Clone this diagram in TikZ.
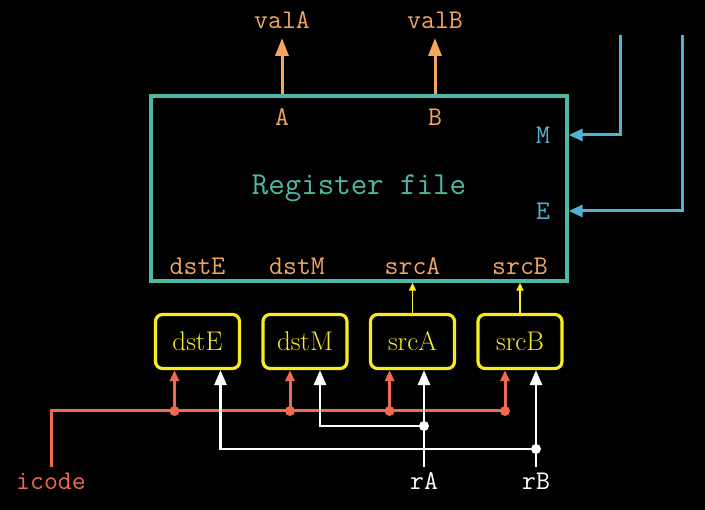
\documentclass[tikz,border=0pt]{standalone}
\usetikzlibrary{arrows.meta}
\definecolor{orng}{HTML}{F2A65E}
\definecolor{teal2}{HTML}{4DB8A6}
\definecolor{blu}{HTML}{4DB4D6}
\definecolor{rd}{HTML}{EE6A50}
\definecolor{yel}{HTML}{F8EC20}
\tikzset{
  lbl/.style={inner sep=0pt, font=\fontsize{27}{30}\selectfont\ttfamily},
  regbox/.style={draw=yel, line width=3.2pt, rounded corners=7pt, minimum width=84pt, minimum height=54pt, inner sep=0pt, text=yel, font=\fontsize{27}{30}\selectfont},
  oarr/.style={draw=orng, line width=3pt, -{Triangle[length=18pt,width=13pt]}},
  barr/.style={draw=blu, line width=3pt, -{Triangle[length=14pt,width=12pt]}},
  rarr/.style={draw=rd, line width=3pt, -{Triangle[length=11pt,width=9pt]}},
  rline/.style={draw=rd, line width=3pt},
  warr/.style={draw=white, line width=2.8pt, -{Triangle[length=15pt,width=12pt]}},
  yarr/.style={draw=yel, line width=1.8pt, -{Triangle[length=8pt,width=7pt]}},
  rdot/.style={circle, fill=rd, inner sep=0pt, minimum size=10pt},
  wdot/.style={circle, fill=white, inner sep=0pt, minimum size=10pt},
}
\begin{document}
\begin{tikzpicture}[x=1pt,y=-1pt]
\fill[black] (0,0) rectangle (705,510);
\useasboundingbox (0,0) rectangle (705,510);
% register file
\node[draw=teal2, line width=3.4pt, minimum width=416pt, minimum height=185pt, inner sep=0pt] (rf) at (359,188.5) {};
\node[lbl, text=teal2, font=\fontsize{32}{36}\selectfont\ttfamily] (rftxt) at (359,188) {Register file};
\node[lbl, text=orng] (pA) at (282,117) {A};
\node[lbl, text=orng] (pB) at (435,117) {B};
\node[lbl, text=blu] (pM) at (543,135) {M};
\node[lbl, text=blu] (pE) at (543,211) {E};
\node[lbl, text=orng] (pdstE) at (197.5,266) {dstE};
\node[lbl, text=orng] (pdstM) at (297,266) {dstM};
\node[lbl, text=orng] (psrcA) at (412.5,266) {srcA};
\node[lbl, text=orng] (psrcB) at (520,266) {srcB};
% outputs
\node[lbl, text=orng] (valA) at (282,20) {valA};
\node[lbl, text=orng] (valB) at (435,20) {valB};
\coordinate (vaT) at (282,38);
\coordinate (vbT) at (435,38);
\draw[oarr] (rf.north -| vaT) -- (vaT);
\draw[oarr] (rf.north -| vbT) -- (vbT);
% blue inputs
\coordinate (mIn) at (620,35);
\coordinate (eIn) at (682,35);
\draw[barr] (mIn) -- (mIn |- pM) -- (rf.east |- pM);
\draw[barr] (eIn) -- (eIn |- pE) -- (rf.east |- pE);
% boxes
\node[regbox] (bdstE) at (197.5,341.5) {dstE};
\node[regbox] (bdstM) at (305,341.5) {dstM};
\node[regbox] (bsrcA) at (412.5,341.5) {srcA};
\node[regbox] (bsrcB) at (520,341.5) {srcB};
\draw[yarr] (bsrcA.north) -- (bsrcA.north |- rf.south);
\draw[yarr] (bsrcB.north) -- (bsrcB.north |- rf.south);
% icode
\node[lbl, text=rd] (icode) at (51,481) {icode};
\coordinate (icTop) at (51,467);
\coordinate (icC) at (51,411);
\node[rdot] (r1) at (174.5,411) {};
\node[rdot] (r2) at (290,411) {};
\node[rdot] (r3) at (389.6,411) {};
\node[rdot] (r4) at (505,411) {};
\draw[rline] (icTop) -- (icC) -- (r4.center);
\draw[rarr] (r1.center) -- (r1.center |- bdstE.south);
\draw[rarr] (r2.center) -- (r2.center |- bdstM.south);
\draw[rarr] (r3.center) -- (r3.center |- bsrcA.south);
\draw[rarr] (r4.center) -- (r4.center |- bsrcB.south);
% rA rB
\node[lbl, text=white] (rA) at (424,481) {rA};
\node[lbl, text=white] (rB) at (536,481) {rB};
\coordinate (rAT) at (424,467);
\coordinate (rBT) at (536,467);
\node[wdot] (wa) at (424,426) {};
\node[wdot] (wb) at (536,449) {};
\coordinate (toM) at (320,426);
\coordinate (toE) at (220.5,449);
\draw[warr] (rAT) -- (rAT |- bsrcA.south);
\draw[warr] (rBT) -- (rBT |- bsrcB.south);
\draw[warr] (wa.center) -- (toM) -- (toM |- bdstM.south);
\draw[warr] (wb.center) -- (toE) -- (toE |- bdstE.south);
\end{tikzpicture}
\end{document}
